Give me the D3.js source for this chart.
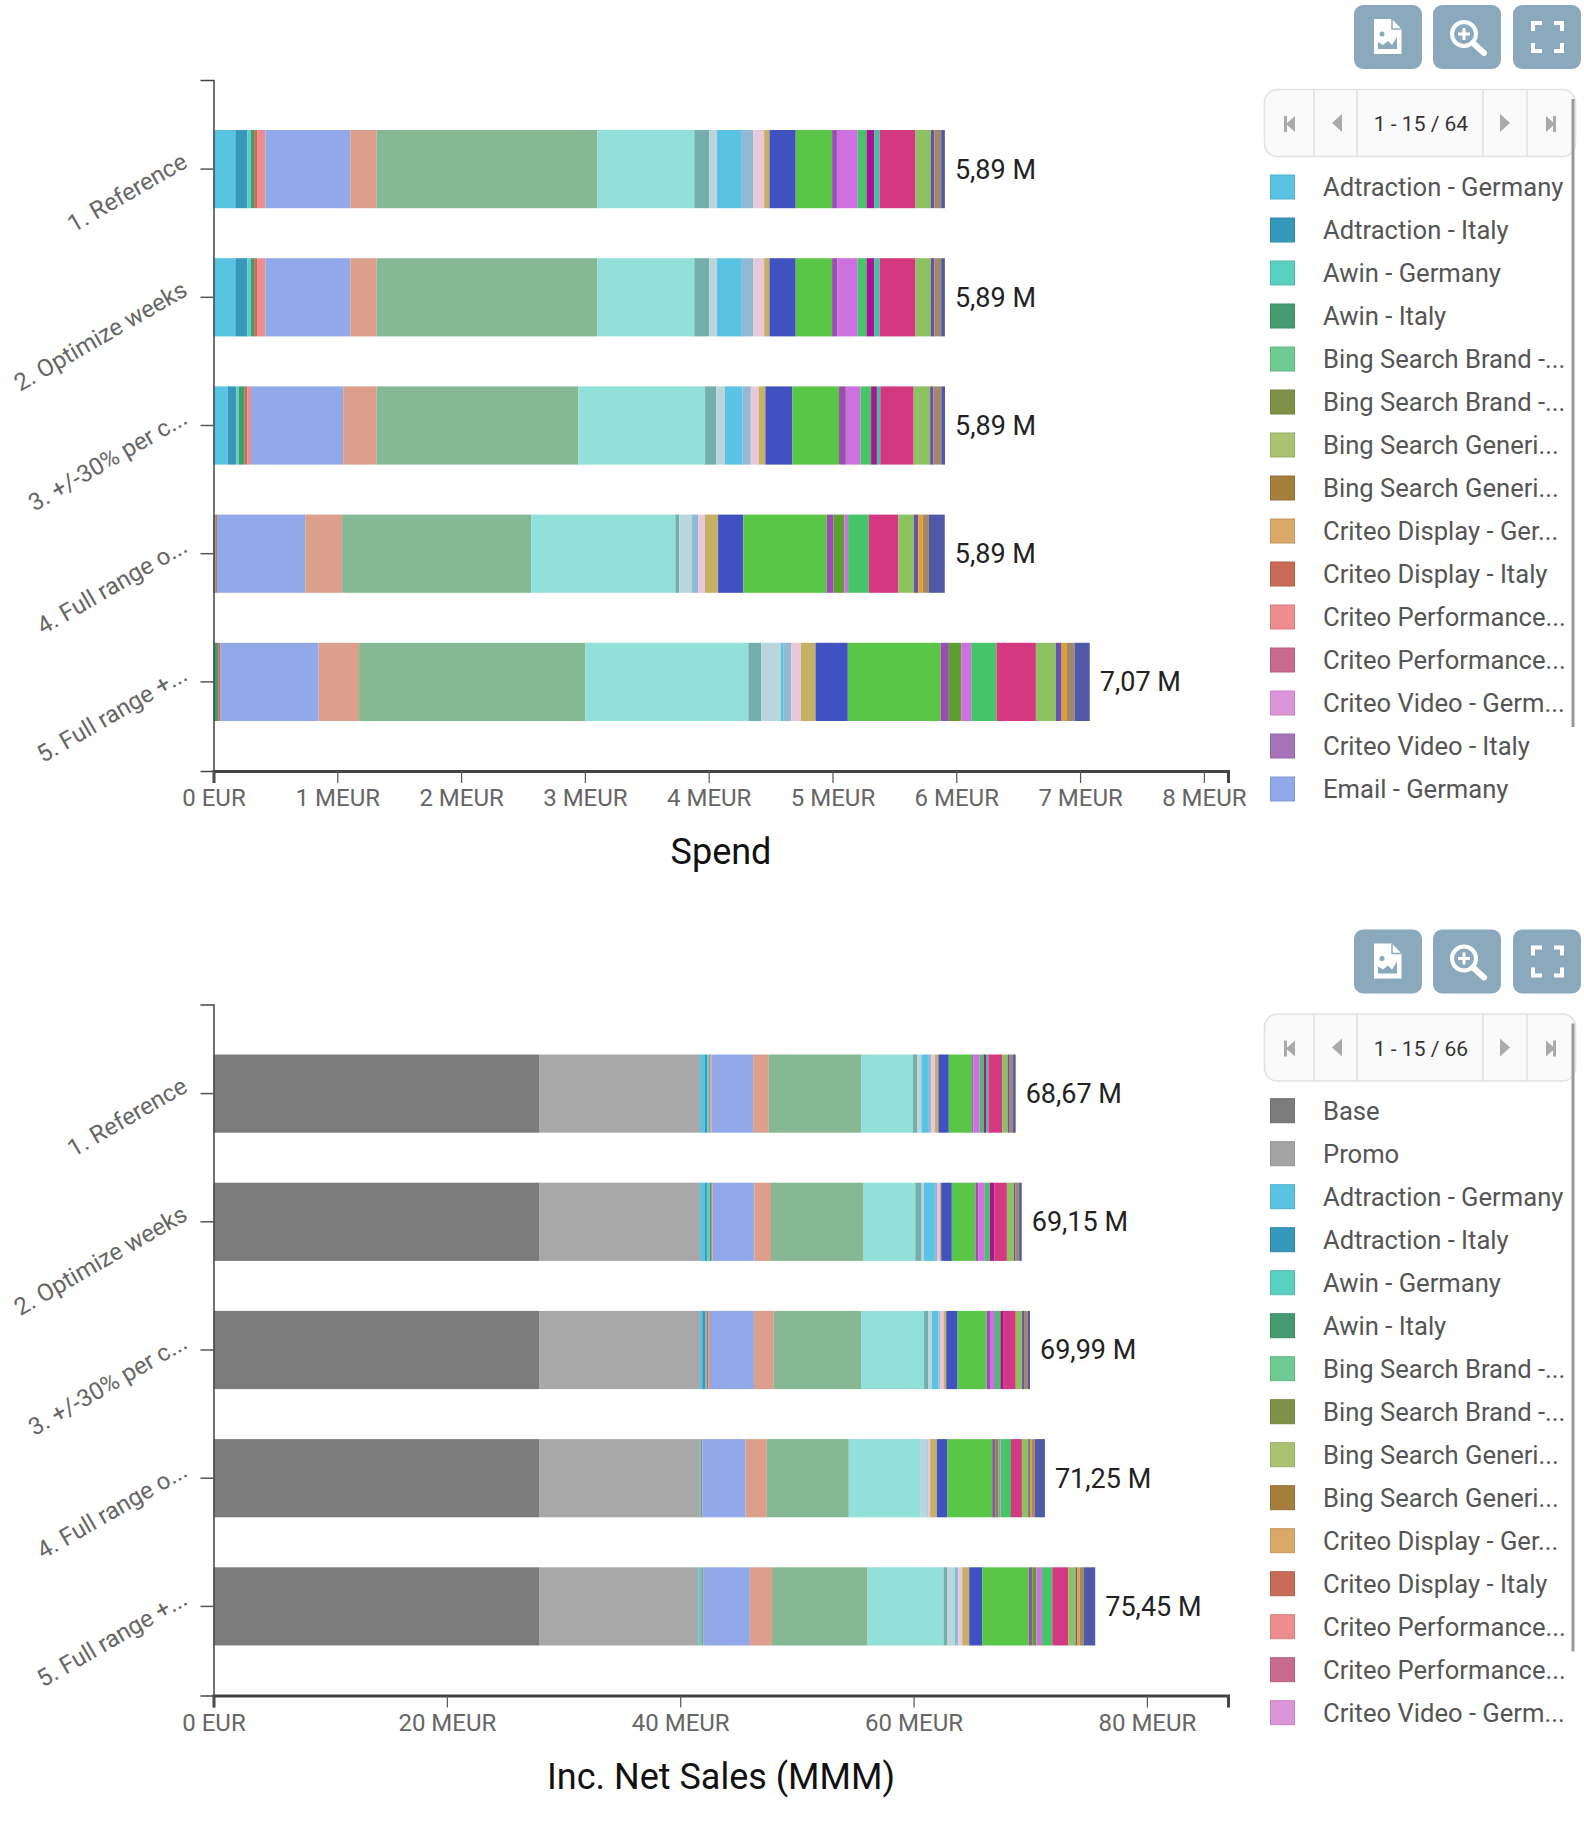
<!DOCTYPE html>
<html>
<head>
<meta charset="utf-8">
<script src="https://cdn.jsdelivr.net/npm/d3@7"></script>
<style>
    html, body { margin: 0; padding: 0; background: #fff; }
    text { font-family: Roboto, sans-serif; }
</style>
</head>
<body>
<svg id="page" width="1584" height="1824"></svg>
<script>
const scenarios = ['1. Reference', '2. Optimize weeks', '3. +/-30% per c...', '4. Full range o...', '5. Full range +...'];

// media channels, in stacking order
const mediaColors = ['#58c3e2', '#3699bb', '#5bd0c1', '#459b6f', '#c96c57', '#ee8d8f', '#92a9e9', '#dc9f8b', '#86b993', '#92e0da',
    '#74b0ab', '#bad5dc', '#58c3e2', '#93b8d4', '#e8c8d8', '#c5b066', '#3f52c0', '#5ac648', '#9b4db0', '#5ba030',
    '#ce70e0', '#45c468', '#a8168f', '#40c0a0', '#d43880', '#8cc25f', '#6c4fb0', '#e0a020', '#a08868', '#5058a8'];
const baseColors = ['#7c7c7c', '#a8a8a8'];

// Spend per channel, MEUR
const spendReference = [0.176, 0.098, 0.027, 0.027, 0.024, 0.067, 0.686, 0.212, 1.783, 0.784, 0.121, 0.063, 0.200, 0.094, 0.086, 0.043, 0.212, 0.294, 0.039, 0, 0.168, 0.071, 0.063, 0.043, 0.290, 0.125, 0.027, 0, 0.055, 0.030];
const spendOptimize = [0.176, 0.098, 0.027, 0.027, 0.024, 0.067, 0.686, 0.212, 1.783, 0.784, 0.121, 0.063, 0.200, 0.094, 0.086, 0.043, 0.212, 0.294, 0.043, 0, 0.164, 0.071, 0.063, 0.043, 0.290, 0.125, 0.027, 0, 0.055, 0.030];
const spendRange30 = [0.114, 0.071, 0.020, 0.047, 0.020, 0.031, 0.745, 0.270, 1.630, 1.023, 0.090, 0.071, 0.141, 0.067, 0.063, 0.055, 0.219, 0.376, 0.055, 0, 0.118, 0.086, 0.047, 0.027, 0.270, 0.133, 0.027, 0, 0.063, 0.030];
const spendFullRange = [0, 0, 0, 0.016, 0.012, 0, 0.713, 0.298, 1.528, 1.164, 0.031, 0.102, 0.008, 0.043, 0.055, 0.106, 0.204, 0.674, 0.055, 0.086, 0.031, 0.168, 0, 0, 0.239, 0.125, 0.035, 0.035, 0.051, 0.128];
const spendFullPlus = [0, 0, 0, 0.038, 0.019, 0, 0.792, 0.327, 1.826, 1.319, 0.104, 0.157, 0.024, 0.062, 0.076, 0.119, 0.261, 0.750, 0.066, 0.100, 0.081, 0.204, 0, 0, 0.318, 0.161, 0.047, 0.038, 0.066, 0.123];
const spendTotals = ['5,89 M', '5,89 M', '5,89 M', '5,89 M', '7,07 M'];
const spendTicks = [0, 1, 2, 3, 4, 5, 6, 7, 8];

// Inc. net sales per channel, MEUR: base, promo, then the media channels
const incReference = [27.95, 13.74, 0.43, 0.20, 0.14, 0.06, 0.08, 0.08, 3.57, 1.34, 7.94, 4.40, 0.37, 0.37, 0.57, 0.29, 0.29, 0.31, 0.89, 2.00, 0.11, 0, 0.54, 0.34, 0.20, 0.20, 1.20, 0.46, 0.17, 0, 0.29, 0.22];
const incOptimize = [27.95, 13.74, 0.43, 0.17, 0.26, 0.09, 0.07, 0.07, 3.57, 1.43, 7.94, 4.43, 0.54, 0.20, 0.86, 0.31, 0.20, 0.11, 0.91, 2.03, 0.23, 0, 0.57, 0.43, 0.37, 0, 1.09, 0.60, 0.11, 0, 0.34, 0.22];
const incRange30 = [27.95, 13.74, 0.20, 0.29, 0.11, 0, 0.14, 0.12, 3.77, 1.69, 7.49, 5.40, 0.34, 0.34, 0.54, 0.14, 0.31, 0.23, 0.97, 2.49, 0.29, 0, 0.43, 0.46, 0.29, 0, 1.03, 0.54, 0.17, 0, 0.34, 0.17];
const incFullRange = [27.95, 13.67, 0, 0, 0.17, 0, 0.11, 0, 3.69, 1.83, 7.03, 6.17, 0, 0.54, 0.06, 0, 0.20, 0.57, 0.89, 3.86, 0.26, 0.29, 0.17, 0.89, 0, 0, 0.94, 0.54, 0.14, 0.17, 0.26, 0.86];
const incFullPlus = [27.95, 13.64, 0, 0, 0.29, 0, 0.09, 0, 4.00, 1.89, 8.20, 6.51, 0.34, 0.63, 0.09, 0.20, 0.34, 0.60, 1.11, 4.00, 0.29, 0.37, 0.46, 0.89, 0, 0, 1.37, 0.63, 0.14, 0.20, 0.37, 0.97];
const incTotals = ['68,67 M', '69,15 M', '69,99 M', '71,25 M', '75,45 M'];
const incTicks = [0, 20, 40, 60, 80];

// legend pages
const spendLegendNames = ['Adtraction - Germany', 'Adtraction - Italy', 'Awin - Germany', 'Awin - Italy', 'Bing Search Brand -...', 'Bing Search Brand -...', 'Bing Search Generi...', 'Bing Search Generi...', 'Criteo Display - Ger...', 'Criteo Display - Italy', 'Criteo Performance...', 'Criteo Performance...', 'Criteo Video - Germ...', 'Criteo Video - Italy', 'Email - Germany'];
const spendLegendColors = ['#5ac3e2', '#3699bb', '#5bd0c1', '#459b6f', '#6ecb93', '#7f9147', '#aac271', '#a67e3c', '#daa868', '#c96c57', '#ee8d8f', '#c86a8e', '#dc95d8', '#a574b8', '#92a9e9'];
const incLegendNames = ['Base', 'Promo'].concat(spendLegendNames.slice(0, 13));
const incLegendColors = ['#7c7c7c', '#a4a4a4'].concat(spendLegendColors.slice(0, 13));

const svg = d3.select('#page');

function tickLabel(v) {
    return v === 0 ? '0 EUR' : `${v} MEUR`;
}

function drawBars(g, opts) {
    const x = d3.scaleLinear().domain([0, opts.xMax]).range([213.5, 1228]);
    const y = d3.scaleBand().domain(scenarios).range([80, 771]).padding(0.39);
    const keys = d3.range(opts.colors.length);
    const stacked = d3.stack().keys(keys)(opts.rows);

    g.selectAll('g.layer')
        .data(stacked)
        .enter()
        .append('g')
        .attr('class', 'layer')
        .attr('fill', (d, i) => opts.colors[i])
        .selectAll('rect')
        .data(d => d)
        .enter()
        .append('rect')
        .attr('x', d => x(d[0]))
        .attr('y', (d, i) => y(scenarios[i]))
        .attr('width', d => x(d[1]) - x(d[0]))
        .attr('height', y.bandwidth());

    g.selectAll('text.total')
        .data(opts.rows)
        .enter()
        .append('text')
        .attr('class', 'total')
        .attr('x', d => x(d3.sum(d)) + 10)
        .attr('y', (d, i) => y(scenarios[i]) + y.bandwidth() / 2)
        .attr('dy', '0.35em')
        .attr('font-size', 27)
        .attr('fill', '#222')
        .text((d, i) => opts.totals[i]);

    const yAxis = g.append('g')
        .attr('transform', 'translate(213.5,0)')
        .call(d3.axisLeft(y).tickSize(13).tickPadding(10));
    yAxis.select('.domain').attr('stroke', '#444').attr('stroke-width', 1.5);
    yAxis.selectAll('.tick line').attr('stroke', '#555').attr('stroke-width', 1.5);
    yAxis.selectAll('.tick text')
        .attr('font-size', 24)
        .attr('fill', '#666')
        .attr('font-family', 'Roboto, sans-serif')
        .attr('text-anchor', 'end')
        .attr('transform', 'translate(-5,-8) rotate(-30 -26 0)');

    const xAxis = g.append('g')
        .attr('transform', 'translate(0,771)')
        .call(d3.axisBottom(x).tickValues(opts.ticks).tickFormat(tickLabel).tickSize(12).tickPadding(6));
    xAxis.select('.domain').attr('stroke', '#444').attr('stroke-width', 3);
    xAxis.selectAll('.tick line').attr('stroke', '#555').attr('stroke-width', 1.2);
    xAxis.selectAll('.tick text')
        .attr('font-size', 24)
        .attr('fill', '#666')
        .attr('font-family', 'Roboto, sans-serif');

    g.append('text')
        .attr('x', 721)
        .attr('y', 864)
        .attr('text-anchor', 'middle')
        .attr('font-size', 36)
        .attr('fill', '#111')
        .text(opts.title);
}

function drawButtons(g) {
    const lefts = [1353, 1432, 1512];
    g.selectAll('rect.btn')
        .data(lefts)
        .enter()
        .append('rect')
        .attr('class', 'btn')
        .attr('x', d => d)
        .attr('y', 5)
        .attr('width', 68)
        .attr('height', 64)
        .attr('rx', 9)
        .attr('fill', '#8aa9bd');

    // image export icon
    const doc = g.append('g').attr('transform', 'translate(1373,19)');
    doc.append('path').attr('d', 'M0 0H18L27.5 10V35H0Z').attr('fill', '#fff');
    doc.append('path').attr('d', 'M18 0V10H27.5').attr('fill', 'none').attr('stroke', '#8aa9bd').attr('stroke-width', 1.5);
    doc.append('circle').attr('cx', 8).attr('cy', 15).attr('r', 2.5).attr('fill', '#8aa9bd');
    doc.append('path').attr('d', 'M4 30V23L9 26L14 22L18 26L23 18V30Z').attr('fill', '#8aa9bd');

    // zoom icon
    const lens = g.append('g').attr('transform', 'translate(1463,34)');
    lens.append('circle').attr('r', 12).attr('fill', 'none').attr('stroke', '#fff').attr('stroke-width', 4);
    lens.append('path').attr('d', 'M9 9L20 19').attr('stroke', '#fff').attr('stroke-width', 6).attr('stroke-linecap', 'round');
    lens.append('path').attr('d', 'M-6 0H6M0 -6V6').attr('stroke', '#fff').attr('stroke-width', 3);

    // fullscreen icon
    g.append('path')
        .attr('d', 'M1532 31V23H1541M1553 23H1561V31M1561 43V51H1553M1541 51H1532V43')
        .attr('fill', 'none')
        .attr('stroke', '#fff')
        .attr('stroke-width', 4);
}

function drawLegend(g, names, colors, pageLabel, rowTop) {
    g.append('rect')
        .attr('x', 1263.5)
        .attr('y', 89.5)
        .attr('width', 311)
        .attr('height', 67)
        .attr('rx', 13)
        .attr('fill', '#fafafa')
        .attr('stroke', '#e2e2e2')
        .attr('stroke-width', 1.6);

    g.selectAll('line.div')
        .data([1313, 1356, 1482, 1526])
        .enter()
        .append('line')
        .attr('class', 'div')
        .attr('x1', d => d)
        .attr('x2', d => d)
        .attr('y1', 90)
        .attr('y2', 156)
        .attr('stroke', '#e2e2e2')
        .attr('stroke-width', 1.6);

    g.append('text')
        .attr('x', 1420)
        .attr('y', 124)
        .attr('dy', '0.35em')
        .attr('text-anchor', 'middle')
        .attr('font-size', 21)
        .attr('fill', '#333')
        .text(pageLabel);

    const arrows = [
        'M1283 116h3v16h-3zM1294 116v16l-9 -8z',
        'M1341 114v18l-10 -9z',
        'M1499 114v18l10 -9z',
        'M1555 116h-3v16h3zM1545 116v16l9 -8z',
    ];
    g.selectAll('path.arrow')
        .data(arrows)
        .enter()
        .append('path')
        .attr('class', 'arrow')
        .attr('d', d => d)
        .attr('fill', '#aaa');

    g.append('rect')
        .attr('x', 1570.5)
        .attr('y', 99)
        .attr('width', 3)
        .attr('height', 628)
        .attr('fill', '#999');

    const row = g.selectAll('g.item')
        .data(names)
        .enter()
        .append('g')
        .attr('class', 'item')
        .attr('transform', (d, i) => `translate(0,${rowTop + i * 43})`);

    row.append('rect')
        .attr('x', 1269.5)
        .attr('y', 0.5)
        .attr('width', 24)
        .attr('height', 24)
        .attr('fill', (d, i) => colors[i])
        .attr('stroke', (d, i) => d3.color(colors[i]).darker(0.3))
        .attr('stroke-width', 1);

    row.append('text')
        .attr('x', 1322)
        .attr('y', 12.5)
        .attr('dy', '0.35em')
        .attr('font-size', 25.6)
        .attr('fill', '#555')
        .text(d => d);
}

const spendChart = svg.append('g');
drawBars(spendChart, {
    rows: [spendReference, spendOptimize, spendRange30, spendFullRange, spendFullPlus],
    colors: mediaColors,
    totals: spendTotals,
    ticks: spendTicks,
    xMax: 8.195,
    title: 'Spend',
});
const spendSide = spendChart.append('g').attr('transform', 'translate(1,0)');
drawButtons(spendSide);
drawLegend(spendSide, spendLegendNames, spendLegendColors, '1 - 15 / 64', 174.5);

const incChart = svg.append('g').attr('transform', 'translate(0,924.5)');
drawBars(incChart, {
    rows: [incReference, incOptimize, incRange30, incFullRange, incFullPlus],
    colors: baseColors.concat(mediaColors),
    totals: incTotals,
    ticks: incTicks,
    xMax: 86.95,
    title: 'Inc. Net Sales (MMM)',
});
const incSide = incChart.append('g').attr('transform', 'translate(1,0)');
drawButtons(incSide);
drawLegend(incSide, incLegendNames, incLegendColors, '1 - 15 / 66', 173.7);
</script>
</body>
</html>
